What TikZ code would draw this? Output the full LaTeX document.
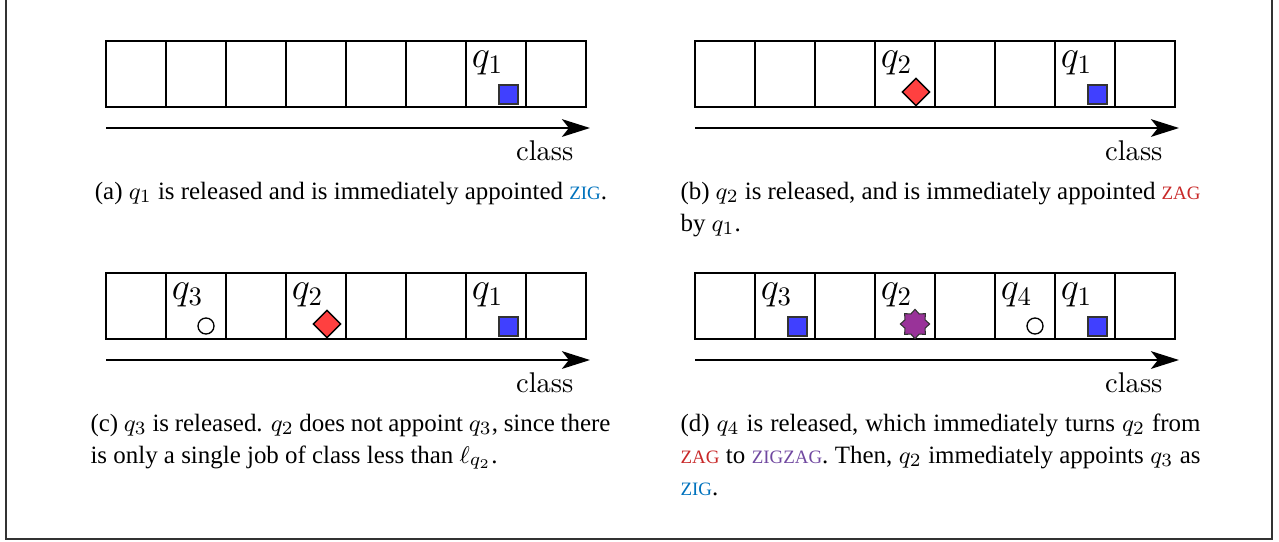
\documentclass[tikz,border=0pt]{standalone}
\usepackage{fontspec}
\newfontfamily\captfont{Liberation Serif}
\usetikzlibrary{arrows.meta,shapes.geometric,calc}
\definecolor{zigc}{RGB}{0,114,189}
\definecolor{zagc}{RGB}{200,40,40}
\definecolor{zzc}{RGB}{112,72,160}
\definecolor{sqblue}{RGB}{64,64,255}
\definecolor{dmred}{RGB}{255,64,64}
\definecolor{stpurple}{RGB}{153,51,153}
\newcommand\fsc[1]{{\fontsize{7.1}{12}\selectfont #1}}
\newcommand\zig{\textcolor{zigc}{\fsc{ZIG}}}
\newcommand\zag{\textcolor{zagc}{\fsc{ZAG}}}
\newcommand\zigzag{\textcolor{zzc}{\fsc{ZIGZAG}}}
\newcommand\captsetup{\captfont\fontsize{9.35}{12}\selectfont\hyphenpenalty=10000 \exhyphenpenalty=10000\relax}
\tikzset{
  frame/.style={draw=black!80,line width=0.4pt},
  cell/.style={draw=black,line width=0.75pt,minimum width=22.5pt,minimum height=24.75pt,inner sep=0pt},
  axis/.style={line width=1pt,-{Stealth[length=10.5pt,width=6.6pt,inset=2.6pt]}},
  classlbl/.style={font=\fontsize{10.7}{12}\selectfont,inner sep=0pt},
  qlbl/.style={font=\fontsize{14}{16}\selectfont,inner sep=0pt},
  sqmark/.style={draw=black!80,line width=0.5pt,fill=sqblue,minimum size=7.1pt,inner sep=0pt},
  dmmark/.style={diamond,draw=black,line width=0.5pt,fill=dmred,minimum size=10.4pt,inner sep=0pt},
  cimark/.style={circle,draw=black,line width=0.5pt,fill=white,minimum size=6pt,inner sep=0pt},
  stmark/.style={star,star points=8,star point ratio=1.35,draw=black!80,line width=0.4pt,fill=stpurple,minimum size=11pt,inner sep=0pt},
  capt/.style={font=\captsetup,inner sep=0pt},
  captbox/.style={capt,text width=195pt,align=justify,anchor=base west},
}
\newcommand\panelrow[3]{%
  \foreach \i in {1,...,8} {\node[cell] (#1\i) at ({#2+(\i-0.5)*60},{#3+33}) {};}
  \coordinate (#1s) at (#2,#3+87);
  \coordinate (#1e) at (#2+484,#3+87);
  \draw[axis] (#1s) -- (#1e);
  \node[classlbl,anchor=base east] (#1cl) at (#2+468,#3+119) {class};
}
\begin{document}
\begin{tikzpicture}[x=0.375pt,y=-0.375pt]
\useasboundingbox (0,0) rectangle (1279,541);
\draw[frame] (6,-2) -- (6,539) -- (1272,539) -- (1272,-2);

% panel (a)
\panelrow{a}{106}{41}
\node[qlbl] (aq1) at ($(a7.north west)+(22.5,23)$) {$q_1$};
\node[sqmark] (am1) at ($(a7.south west)+(43.5,-13.5)$) {};
\node[capt,anchor=base] (capa) at (351,199) {(a) $q_1$ is released and is immediately appointed \zig.};

% panel (b)
\panelrow{b}{695}{41}
\node[qlbl] (bq2) at ($(b4.north west)+(22.5,23)$) {$q_2$};
\node[dmmark] (bm2) at ($(b4.south west)+(42,-16)$) {};
\node[qlbl] (bq1) at ($(b7.north west)+(22.5,23)$) {$q_1$};
\node[sqmark] (bm1) at ($(b7.south west)+(43.5,-13.5)$) {};
\node[captbox] (capb) at (680,199) {(b) $q_2$ is released, and is immediately appointed \zag\linebreak by $q_1$.};

% panel (c)
\panelrow{c}{106}{273}
\node[qlbl] (cq3) at ($(c2.north west)+(22.5,23)$) {$q_3$};
\node[cimark] (cm3) at ($(c2.south west)+(41,-14)$) {};
\node[qlbl] (cq2) at ($(c4.north west)+(22.5,23)$) {$q_2$};
\node[dmmark] (cm2) at ($(c4.south west)+(42,-16)$) {};
\node[qlbl] (cq1) at ($(c7.north west)+(22.5,23)$) {$q_1$};
\node[sqmark] (cm1) at ($(c7.south west)+(43.5,-13.5)$) {};
\node[captbox] (capc) at (90,431) {(c) $q_3$ is released. $q_2$ does not appoint $q_3$, since there\linebreak is only a single job of class less than $\ell_{q_2}$.};

% panel (d)
\panelrow{d}{695}{273}
\node[qlbl] (dq3) at ($(d2.north west)+(22.5,23)$) {$q_3$};
\node[sqmark] (dm3) at ($(d2.south west)+(43.5,-13.5)$) {};
\node[qlbl] (dq2) at ($(d4.north west)+(22.5,23)$) {$q_2$};
\node[stmark] (dm2) at ($(d4.south west)+(41,-16)$) {};
\node[qlbl] (dq4) at ($(d6.north west)+(22.5,23)$) {$q_4$};
\node[cimark] (dm4) at ($(d6.south west)+(41,-14)$) {};
\node[qlbl] (dq1) at ($(d7.north west)+(22.5,23)$) {$q_1$};
\node[sqmark] (dm1) at ($(d7.south west)+(43.5,-13.5)$) {};
\node[captbox] (capd) at (680,431) {(d) $q_4$ is released, which immediately turns $q_2$ from\linebreak \zag{} to \zigzag. Then, $q_2$ immediately appoints $q_3$ as\linebreak \zig.};
\end{tikzpicture}
\end{document}
